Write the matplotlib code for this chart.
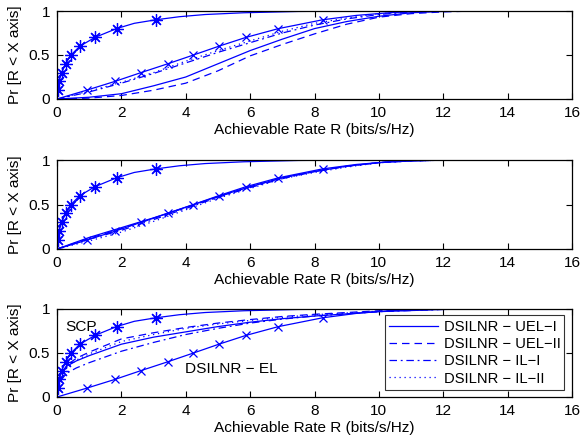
import matplotlib
matplotlib.use("Agg")
import matplotlib.pyplot as plt
import numpy as np

plt.rcParams['font.family'] = ['Liberation Sans', 'DejaVu Sans']

# ---- data ----
# SCP and DSILNR-EL CDFs given as (rate, probability) points; markers at deciles
scp_x = [0, 0.02, 0.06, 0.145, 0.27, 0.435, 0.71, 1.18, 1.85, 2.4, 3.07, 3.8, 4.6, 5.8, 7.5, 9.5]
scp_y = [0, 0.1, 0.2, 0.3, 0.4, 0.5, 0.6, 0.7, 0.8, 0.86, 0.9, 0.935, 0.96, 0.98, 0.995, 1.0]
scp_mk = [1, 2, 3, 4, 5, 6, 7, 8, 10]

el_x = [0, 0.92, 1.80, 2.61, 3.44, 4.24, 5.03, 5.87, 6.88, 8.25, 9.3, 10.3, 11.2, 12.3]
el_y = [0, 0.1, 0.2, 0.3, 0.4, 0.5, 0.6, 0.7, 0.8, 0.9, 0.95, 0.98, 0.995, 1.0]
el_mk = [1, 2, 3, 4, 5, 6, 7, 8, 9]

rate = [0, 1, 2, 3, 4, 5, 6, 7, 8, 9, 10, 11, 12, 13]

# panel 1
p1_uel1 = [0, 0.02, 0.06, 0.15, 0.25, 0.40, 0.55, 0.68, 0.80, 0.88, 0.94, 0.98, 0.995, 1.0]
p1_uel2 = [0, 0.01, 0.04, 0.10, 0.18, 0.32, 0.49, 0.62, 0.74, 0.85, 0.93, 0.97, 0.99, 1.0]
p1_il1 = [0, 0.08, 0.18, 0.29, 0.41, 0.53, 0.64, 0.75, 0.84, 0.91, 0.96, 0.99, 0.998, 1.0]
p1_il2 = [0, 0.09, 0.19, 0.30, 0.43, 0.55, 0.66, 0.77, 0.86, 0.92, 0.97, 0.99, 0.998, 1.0]

# panel 2
p2_uel1 = [0, 0.13, 0.24, 0.35, 0.47, 0.59, 0.70, 0.80, 0.87, 0.93, 0.97, 0.99, 0.998, 1.0]
p2_uel2 = [0, 0.12, 0.23, 0.345, 0.465, 0.585, 0.70, 0.80, 0.87, 0.93, 0.97, 0.99, 0.998, 1.0]
p2_il1 = [0, 0.11, 0.21, 0.33, 0.455, 0.58, 0.69, 0.79, 0.87, 0.93, 0.97, 0.99, 0.998, 1.0]
p2_il2 = [0, 0.09, 0.19, 0.31, 0.44, 0.57, 0.68, 0.79, 0.86, 0.92, 0.97, 0.99, 0.998, 1.0]

# panel 3 (denser near zero)
rate3 = [0, 0.02, 0.1, 0.3, 0.6, 1, 2, 3, 4, 5, 6, 7, 8, 10, 12, 13]
p3_uel1 = [0, 0.15, 0.25, 0.35, 0.41, 0.47, 0.60, 0.68, 0.74, 0.80, 0.85, 0.89, 0.92, 0.97, 0.995, 1.0]
p3_uel2 = [0, 0.12, 0.24, 0.36, 0.44, 0.51, 0.66, 0.73, 0.79, 0.84, 0.88, 0.915, 0.94, 0.98, 0.997, 1.0]
p3_il1 = [0, 0.10, 0.18, 0.27, 0.33, 0.39, 0.52, 0.62, 0.71, 0.78, 0.84, 0.885, 0.92, 0.97, 0.995, 1.0]
p3_il2 = [0, 0.12, 0.22, 0.33, 0.42, 0.49, 0.63, 0.71, 0.78, 0.83, 0.87, 0.905, 0.935, 0.975, 0.996, 1.0]

legend_labels = ['DSILNR \u2212 UEL\u2212I', 'DSILNR \u2212 UEL\u2212II',
                 'DSILNR \u2212 IL\u2212I', 'DSILNR \u2212 IL\u2212II']
xticks = [0, 2, 4, 6, 8, 10, 12, 14, 16]
yticks = [0, 0.5, 1]
ytick_labels = ['0', '0.5', '1']
xlabel = 'Achievable Rate R (bits/s/Hz)'
ylabel = 'Pr [R < X axis]'

# ---- figure ----
W, H = 581, 443
fig = plt.figure(figsize=(W / 100, H / 100), dpi=100)
left = 57 / W
width = 515 / W
boxes = [(11, 99), (160, 249), (309, 397)]
blue = (0, 0, 1)
fs = 11.1

panels = [
    (rate, p1_uel1, p1_uel2, p1_il1, p1_il2),
    (rate, p2_uel1, p2_uel2, p2_il1, p2_il2),
    (rate3, p3_uel1, p3_uel2, p3_il1, p3_il2),
]

for i, ((top, bot), pdata) in enumerate(zip(boxes, panels)):
    ax = fig.add_axes([left, 1 - bot / H, width, (bot - top) / H])
    xr, a, b, c, d = pdata
    lw = 0.9
    hs = []
    hs += ax.plot(xr, a, '-', color=blue, lw=lw)
    hs += ax.plot(xr, b, '--', color=blue, lw=lw, dashes=(6, 4))
    hs += ax.plot(xr, c, '-.', color=blue, lw=lw, dashes=(6, 3, 1.5, 3))
    hs += ax.plot(xr, d, ':', color=blue, lw=lw, dashes=(1, 3))
    ax.plot(scp_x, scp_y, '-', color=blue, lw=lw, marker=(8, 2, 0), ms=9,
            markevery=scp_mk, mew=0.9)
    ax.plot(el_x, el_y, '-', color=blue, lw=lw, marker='x', ms=6,
            markevery=el_mk, mew=0.9)
    ax.set_xlim(0, 16)
    ax.set_ylim(0, 1)
    ax.set_xticks(xticks)
    ax.set_xticklabels([str(t) for t in xticks], fontsize=fs)
    ax.set_yticks(yticks)
    ax.set_yticklabels(ytick_labels, fontsize=fs)
    ax.tick_params(direction='in', top=True, right=True, length=4, width=0.8, pad=5)
    for s in ax.spines.values():
        s.set_linewidth(0.9)
    ax.set_xlabel(xlabel, fontsize=fs, labelpad=2)
    ax.set_ylabel(ylabel, fontsize=fs, labelpad=5)
    if i == 2:
        ax.text(0.25, 0.79, 'SCP', fontsize=fs, va='center', ha='left')
        ax.text(3.98, 0.32, 'DSILNR \u2212 EL', fontsize=fs, va='center', ha='left')
        leg = ax.legend(hs, legend_labels, loc='lower left',
                        bbox_to_anchor=(0.637, 0.08, 0.347, 0.85), mode='expand',
                        fontsize=10.6, frameon=True, fancybox=False,
                        handlelength=3.3, borderpad=0.3, labelspacing=0.22,
                        handletextpad=0.4, borderaxespad=0)
        leg.get_frame().set_edgecolor('black')
        leg.get_frame().set_linewidth(0.8)

fig.savefig('out.png', dpi=100)
